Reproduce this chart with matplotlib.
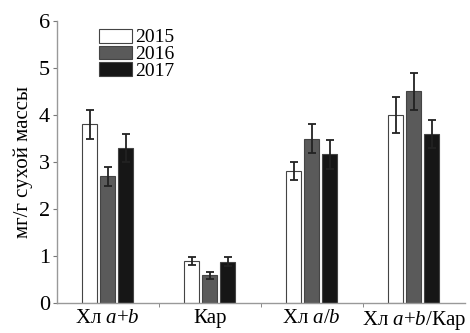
import numpy as np
import matplotlib
matplotlib.use('Agg')
import matplotlib.pyplot as plt

plt.rcParams['font.family'] = ['Liberation Serif', 'DejaVu Serif']
plt.rcParams['mathtext.fontset'] = 'custom'
plt.rcParams['mathtext.rm'] = 'Liberation Serif'
plt.rcParams['mathtext.it'] = 'Liberation Serif:italic'

# Pigment content by year
groups = ['Хл $a$+$b$', 'Кар', 'Хл $a$/$b$', 'Хл $a$+$b$/Кар']
years = ['2015', '2016', '2017']
vals_2015 = [3.8, 0.89, 2.8, 4.0]
vals_2016 = [2.7, 0.59, 3.5, 4.5]
vals_2017 = [3.3, 0.88, 3.16, 3.6]
err_2015 = [0.3, 0.09, 0.19, 0.38]
err_2016 = [0.2, 0.07, 0.3, 0.4]
err_2017 = [0.3, 0.1, 0.3, 0.3]

values = [vals_2015, vals_2016, vals_2017]
errors = [err_2015, err_2016, err_2017]
colors = ['white', '#5a5a5a', '#161616']

fig = plt.figure(figsize=(4.7, 3.33), dpi=100)
ax = fig.add_axes([0.121, 0.09, 0.868, 0.847])

x = np.arange(len(groups))
width = 0.147
step = 0.176
for i in range(3):
    ax.bar(x + (i - 1) * step, values[i], width, color=colors[i],
           edgecolor='#444444', linewidth=0.8, label=years[i],
           yerr=errors[i], error_kw=dict(ecolor='#222222', elinewidth=1.3,
                                         capsize=3, capthick=1.3))

ax.set_xlim(-0.5, 3.5)
ax.set_ylim(0, 6)
ax.set_yticks(range(7))
ax.set_xticks(x)
ax.set_xticklabels(groups, fontsize=15)
ax.set_xticks([0.5, 1.5, 2.5], minor=True)
ax.tick_params(axis='x', which='major', length=0, pad=4)
ax.tick_params(axis='x', which='minor', length=3, color='#777777')
ax.tick_params(axis='y', length=3, color='#777777', labelsize=16, pad=2)
ax.set_ylabel('мг/г сухой массы', fontsize=15, labelpad=4)

for s in ['top', 'right']:
    ax.spines[s].set_visible(False)
for s in ['left', 'bottom']:
    ax.spines[s].set_color('#999999')
    ax.spines[s].set_linewidth(1.0)

ax.legend(loc='upper left', bbox_to_anchor=(0.083, 1.0), frameon=False,
          fontsize=14, handlelength=1.7, handleheight=0.72,
          labelspacing=-0.05, handletextpad=0.2, borderaxespad=0)

fig.savefig('out.png', dpi=100)
